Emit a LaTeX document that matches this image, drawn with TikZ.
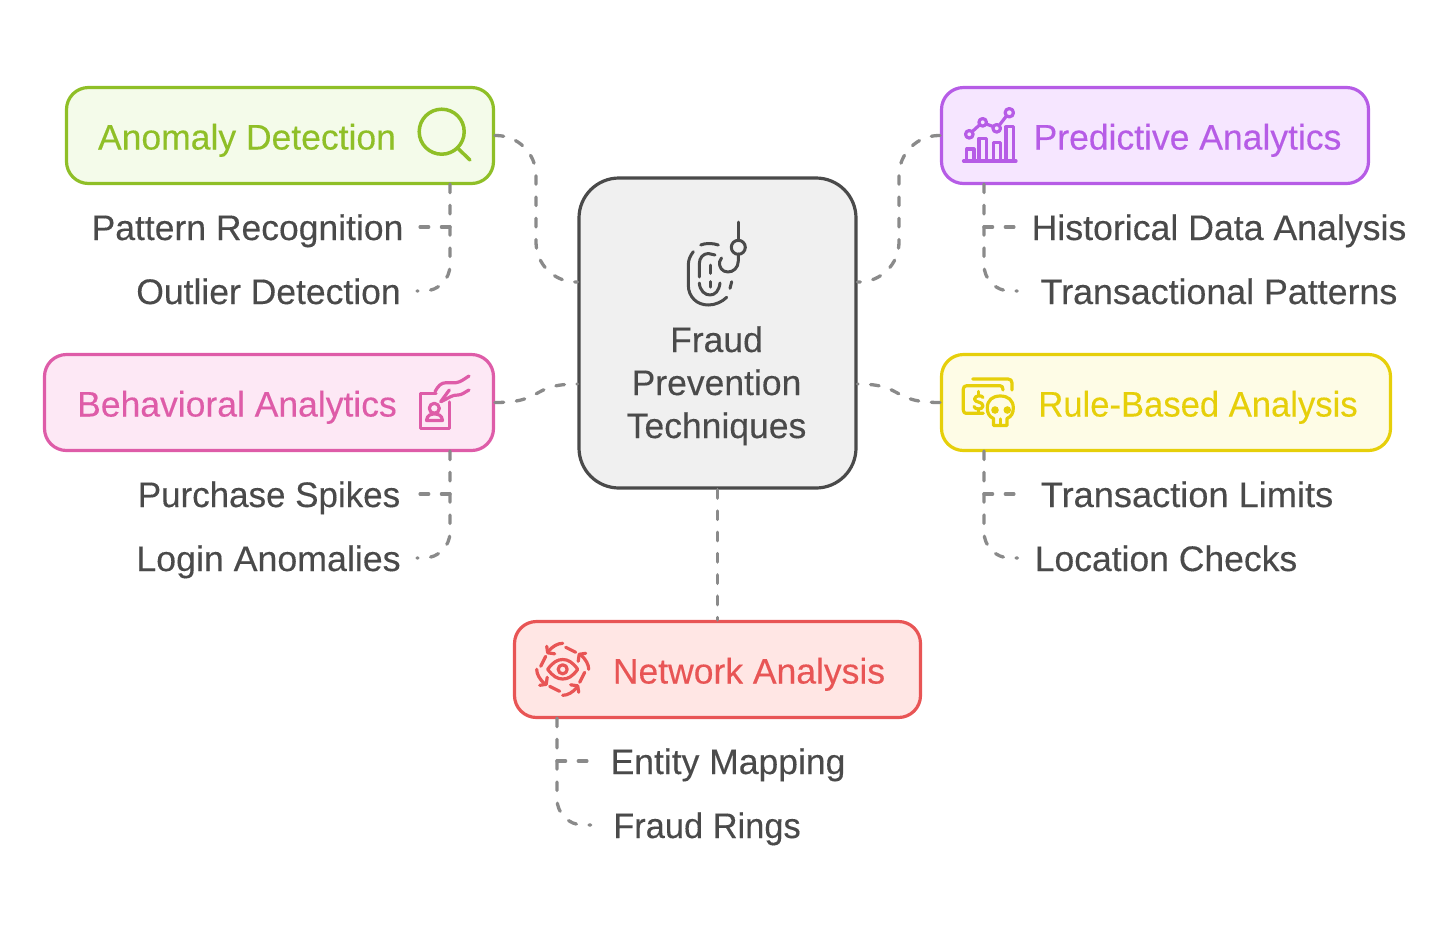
\documentclass[tikz,border=0pt]{standalone}
\usepackage{fontspec}
\setmainfont{Liberation Sans}[FakeBold=0.25]
\usetikzlibrary{calc}
\definecolor{inkc}{HTML}{4A4A4A}
\definecolor{linkc}{HTML}{8A8A8A}
\definecolor{gs}{HTML}{8FBF27}\definecolor{gf}{HTML}{F4FBEA}
\definecolor{ps}{HTML}{B65CE6}\definecolor{pf}{HTML}{F6E6FF}
\definecolor{ms}{HTML}{DE5CA8}\definecolor{mf}{HTML}{FDE8F5}
\definecolor{ys}{HTML}{E6CF0A}\definecolor{yf}{HTML}{FEFCE6}
\definecolor{rs}{HTML}{E85555}\definecolor{rf}{HTML}{FFE6E4}
\newcommand{\stch}[1]{\addfontfeature{FakeStretch=#1}}
\tikzset{
  boxbase/.style={draw,rectangle,rounded corners=11pt,line width=1.6pt,inner sep=0pt,minimum height=48pt},
  gbox/.style={boxbase,draw=gs,fill=gf},
  pbox/.style={boxbase,draw=ps,fill=pf},
  mbox/.style={boxbase,draw=ms,fill=mf},
  ybox/.style={boxbase,draw=ys,fill=yf},
  rbox/.style={boxbase,draw=rs,fill=rf},
  txt/.style={font=\fontsize{17.75pt}{21pt}\selectfont,anchor=base,inner ysep=0pt,inner xsep=0pt},
  leaf/.style={txt,text=inkc,inner xsep=#1},
  link/.style={draw=linkc,line width=1.65pt,line cap=round,dash pattern=on 4.3pt off 6.35pt},
  trunk/.style={link,rounded corners=13pt},
  stem/.style={link,rounded corners=20pt},
  ico/.style={line width=1.6pt,line cap=round,line join=round},
}
\begin{document}
\begin{tikzpicture}[x=0.5pt,y=-0.5pt]
\useasboundingbox (0,0) rectangle (1456,933);

\node[leaf=7.5pt] (pr) at (247.5,240) {Pattern Recognition};
\node[leaf=8pt] (ol) at (268.5,304) {Outlier Detection};
\node[leaf=9pt] (ps1) at (269,507) {\stch{0.985}Purchase Spikes};
\node[leaf=8pt] (la) at (268.5,571) {\stch{1.007}Login Anomalies};
\node[leaf=7.5pt] (hd) at (1219,240) {\stch{1.005}Historical Data Analysis};
\node[leaf=11.5pt] (tp) at (1219,304) {\stch{1.008}Transactional Patterns};
\node[leaf=12pt] (tl) at (1187,507) {\stch{1.02}Transaction Limits};
\node[leaf=8.5pt] (lc) at (1166,571) {Location Checks};
\node[leaf=10.5pt] (em) at (728,774) {Entity Mapping};
\node[leaf=11pt] (fr) at (707,838) {\stch{0.97}Fraud Rings};

\node[draw=inkc,fill=black!6,line width=1.6pt,rectangle,rounded corners=20pt,inner sep=0pt,minimum width=138.5pt,minimum height=155pt] (cen) at (717.5,333) {};
\node[gbox,minimum width=213.5pt] (anom) at (280,135.5) {};
\node[pbox,minimum width=213.5pt] (pred) at (1155,135.5) {};
\node[mbox,minimum width=224.5pt] (beha) at (269,402.5) {};
\node[ybox,minimum width=224.5pt] (rule) at (1166,402.5) {};
\node[rbox,minimum width=203pt] (netw) at (717.5,669.5) {};

\coordinate (cenA) at (cen.west |- 0,282);
\coordinate (cenP) at (cen.east |- 0,282);
\coordinate (cenB) at (cen.west |- 0,384);
\coordinate (cenR) at (cen.east |- 0,384);
\coordinate (aT) at (450,184);
\coordinate (bT) at (450,451);
\coordinate (pT) at (984,184);
\coordinate (rT) at (984,451);
\coordinate (nT) at (557,718);
\coordinate (aJ) at (450,227);
\coordinate (bJ) at (450,494);
\coordinate (pJ) at (984,227);
\coordinate (rJ) at (984,494);
\coordinate (nJ) at (557,761);

\draw[stem] (anom.east) -- (536,135.5) -- (536,282) -- (cenA);
\draw[stem] (pred.west) -- (899,135.5) -- (899,282) -- (cenP);
\draw[link] (beha.east) .. controls (545,402.5) and (530,384) .. (cenB);
\draw[link] (rule.west) .. controls (890,402.5) and (905,384) .. (cenR);
\draw[link] (cen.south) -- (netw.north);

\draw[link] (aJ) -- (pr.east |- aJ);
\draw[trunk] (aT) -- (450,291) -- (ol.east |- 0,291);
\draw[link] (bJ) -- (ps1.east |- bJ);
\draw[trunk] (bT) -- (450,558) -- (la.east |- 0,558);
\draw[link] (pJ) -- (hd.west |- pJ);
\draw[trunk] (pT) -- (984,291) -- (tp.west |- 0,291);
\draw[link] (rJ) -- (tl.west |- rJ);
\draw[trunk] (rT) -- (984,558) -- (lc.west |- 0,558);
\draw[link] (nJ) -- (em.west |- nJ);
\draw[trunk] (nT) -- (557,825) -- (fr.west |- 0,825);

% titles
\node[txt,text=gs] (tA) at (247,149.5) {Anomaly Detection};
\node[txt,text=ps] (tP) at (1187.5,149.5) {Predictive Analytics};
\node[txt,text=ms] (tB) at (237,416.5) {Behavioral Analytics};
\node[txt,text=ys] (tR) at (1198,416.5) {\stch{0.975}Rule-Based Analysis};
\node[txt,text=rs] (tN) at (749,683.5) {Network Analysis};
\node[txt,text=inkc] (c1) at (716.5,352) {Fraud};
\node[txt,text=inkc] (c2) at (716.5,395) {Prevention};
\node[txt,text=inkc] (c3) at (716.5,438) {Techniques};

% fingerprint and hook icon
\begin{scope}[ico,draw=inkc,line width=1.5pt]
\draw (738.3,222) -- (738.3,240.5);
\draw (738.3,247.3) circle (7);
\draw (738.3,254) -- (738.3,261) .. controls (738.3,268) and (733,272) .. (728,272) .. controls (722,272) and (719,267) .. (719.5,262) -- (721.5,258);
\draw (693.3,251.7) .. controls (690,256) and (688.3,260) .. (688.3,265) -- (688.3,285) .. controls (688.3,297) and (697,305) .. (708.3,305) .. controls (715,305) and (722,302) .. (726.7,297.3);
\draw (700.7,245) .. controls (705,243) and (713,243) .. (718.3,245);
\draw (699.3,277) -- (699.3,264) .. controls (699.3,258) and (703,253.5) .. (708.3,253.5) -- (715,255);
\draw (710,265) -- (710,273.3);
\draw (710,281.7) -- (710,287);
\draw (699.3,283) .. controls (700,291) and (705,295) .. (710,295) .. controls (715,295) and (719,291) .. (720,283);
\draw (731.7,281.7) -- (730,288.3);
\end{scope}

% magnifier
\begin{scope}[ico,draw=gs,line width=1.75pt]
\draw (441.7,131.7) circle (22.5);
\draw (457.5,148) -- (470,160);
\end{scope}

% chart
\begin{scope}[ico,draw=ps]
\draw (969.3,134.3) circle (3.8) (982.7,122.3) circle (3.8) (996.7,128.3) circle (3.8) (1009.3,112.7) circle (4.2);
\draw (972.3,131.5) -- (979.7,124.8) (986.3,124) -- (993,126.5) (999.3,125.2) -- (1006.4,116);
\draw (963.5,161) -- (1016,161);
\draw (966.7,161) -- (966.7,149) -- (974,149) -- (974,161);
\draw (979,161) -- (979,138.3) -- (986.7,138.3) -- (986.7,161);
\draw (993.3,161) -- (993.3,142.3) -- (1000.7,142.3) -- (1000.7,161);
\draw (1006,161) -- (1006,126.7) -- (1013.3,126.7) -- (1013.3,161);
\end{scope}

% badge and hand
\begin{scope}[ico,draw=ms]
\draw (436,393.3) -- (420.7,393.3) -- (420.7,428.3) -- (449.3,428.3) -- (449.3,402);
\draw (434.3,408.3) circle (5);
\draw (426.5,420.5) .. controls (427,415) and (431,414) .. (434.3,414) .. controls (438,414) and (442,415) .. (442.5,420.5) -- cycle;
\draw (435,391.7) .. controls (438,386) and (441,382.7) .. (446,382.7) -- (456,382.7) .. controls (461,382) and (464,379) .. (469,376);
\draw (440.7,401.7) -- (449.3,390);
\draw (441,401.7) -- (451,396.5) .. controls (453,395.5) and (455,395) .. (458,395) .. controls (462,395) and (465,392) .. (469,390);
\end{scope}

% money and skull
\begin{scope}[ico,draw=ys]
\draw (972.7,379) -- (1008,379) .. controls (1010.5,379) and (1012,380.5) .. (1012,383) -- (1012,390);
\draw (1003,390) .. controls (1003,387) and (1002,385.7) .. (1000,385.7) -- (966.7,385.7) .. controls (964.5,385.7) and (963.3,387) .. (963.3,389) -- (963.3,410) .. controls (963.3,412) and (964.5,413.3) .. (966,413.3) -- (983.3,413.3);
\draw (983,397.5) .. controls (982,395) and (975,395) .. (974.5,399) .. controls (974.5,403) and (983,401) .. (983,406) .. controls (982.5,410) and (975,410) .. (974,406.5);
\draw (978.5,391.5) -- (978.5,394.5) (978.5,409) -- (978.5,411.5);
\draw (993.5,425.5) -- (993.5,418.5) .. controls (989,416.5) and (987.3,413) .. (987.3,408) .. controls (987.3,400) and (992.5,396) .. (1000.3,396) .. controls (1008,396) and (1013.3,400) .. (1013.3,408) .. controls (1013.3,413) and (1011.5,416.5) .. (1007,418.5) -- (1007,425.5) -- cycle;
\draw (1000.3,419) -- (1000.3,425.5);
\fill[ys] (995,410) circle (3.8) (1007.3,410) circle (3.8);
\end{scope}

% eye with cycle arrows
\begin{scope}[ico,draw=rs]
\draw (547.7,669.3) .. controls (553,662) and (557.5,659.5) .. (562.7,659.5) .. controls (568,659.5) and (572.5,662) .. (577.7,669.3) .. controls (572.5,676.5) and (568,679) .. (562.7,679) .. controls (557.5,679) and (553,676.5) .. (547.7,669.3) -- cycle;
\draw (562.7,669.3) circle (4.5);
\foreach \r in {0,90,180,270}{
  \begin{scope}[shift={(562.7,669.3)},rotate=\r]
    \draw (0,-26) .. controls (-5,-26) and (-10,-23) .. (-14.5,-18);
    \draw (-16,-23) -- (-15,-16.5) -- (-8,-15.5);
    \draw (3,-22) -- (13,-17);
  \end{scope}
}
\end{scope}
\end{tikzpicture}
\end{document}
